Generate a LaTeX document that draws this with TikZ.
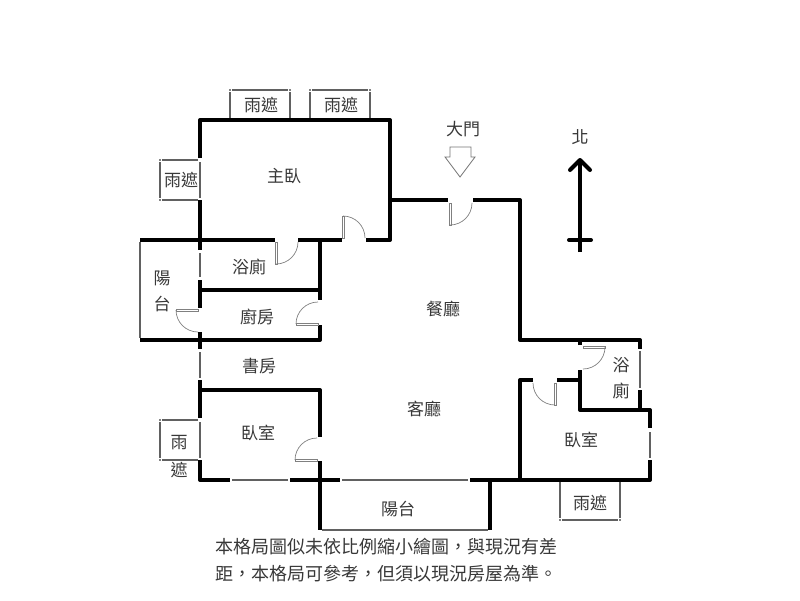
\documentclass[tikz,border=0pt]{standalone}
\usepackage{fontspec}
\setmainfont{Noto Sans CJK TC}
\newcommand{\wall}[1]{
	\draw[wallLine] #1;
}
\newcommand{\pane}[4]{
	\draw[paneLine] (#1, #2) -- (#3, #4);
}
\newcommand{\door}[4]{
	\draw[swingLine, shift={(#1, #2)}, rotate=#3] (0pt, -1.1pt) rectangle (22pt, 1.1pt);
	\draw[swingLine] (#1, #2) ++(#3:22pt) arc[start angle=#3, delta angle=#4, radius=22pt];
}
\newcommand{\roomLabel}[4]{
	\node[roomText] (#1) at (#2, #3) {#4};
}
\newcommand{\cornerTick}[2]{
	\fill (#1, #2) circle (0.9pt);
}
% frames of the canopies, given their corners
\newcommand{\canopyUp}[3]{
	\pane{#1}{#2 + 28}{#1}{#2 + 2}
	\pane{#1 + 2}{#2}{#3 - 2}{#2}
	\pane{#3}{#2 + 2}{#3}{#2 + 28}
	\cornerTick{#1}{#2}
	\cornerTick{#3}{#2}
}
\newcommand{\canopyDown}[3]{
	\pane{#1}{#2 - 38}{#1}{#2 - 2}
	\pane{#1 + 2}{#2}{#3 - 2}{#2}
	\pane{#3}{#2 - 2}{#3}{#2 - 38}
	\cornerTick{#1}{#2}
	\cornerTick{#3}{#2}
}
\newcommand{\canopyLeft}[3]{
	\pane{#1 + 38}{#2}{#1 + 2}{#2}
	\pane{#1}{#2 + 2}{#1}{#3 - 2}
	\pane{#1 + 2}{#3}{#1 + 38}{#3}
	\pane{#1 + 40}{#2 + 2}{#1 + 40}{#3 - 2}
	\cornerTick{#1}{#2}
	\cornerTick{#1}{#3}
}
\tikzset{
	wallLine/.style={line width=4pt, line join=round},
	paneLine/.style={line width=1.8pt, draw=black!62},
	swingLine/.style={draw=black!50, line width=0.7pt},
	roomText/.style={font=\fontsize{17}{17}\selectfont, text=black!78, inner sep=0pt},
	noteText/.style={font=\fontsize{18}{18}\selectfont, text=black!78, inner sep=0pt, anchor=west}
}
\begin{document}
\begin{tikzpicture}[x=1pt, y=-1pt]
	\useasboundingbox (0, 0) rectangle (800, 600);

	% walls
	\wall{(200, 158) -- (200, 120) -- (390, 120) -- (390, 240) -- (366, 240)}
	\wall{(200, 200) -- (200, 250)}
	\wall{(200, 280) -- (200, 308)}
	\wall{(200, 332) -- (200, 349)}
	\wall{(200, 380) -- (200, 418)}
	\wall{(200, 460) -- (200, 480) -- (230, 480)}
	\wall{(140, 240) -- (275, 240)}
	\wall{(298, 240) -- (342, 240)}
	\wall{(320, 240) -- (320, 300)}
	\wall{(320, 325) -- (320, 340) -- (140, 340)}
	\wall{(200, 290) -- (320, 290)}
	\wall{(200, 390) -- (320, 390) -- (320, 437)}
	\wall{(320, 461) -- (320, 530)}
	\wall{(290, 480) -- (340, 480)}
	\wall{(470, 480) -- (650, 480) -- (650, 460)}
	\wall{(490, 480) -- (490, 530)}
	\wall{(390, 200) -- (448, 200)}
	\wall{(473, 200) -- (520, 200) -- (520, 340) -- (640, 340) -- (640, 349)}
	\wall{(640, 390) -- (640, 410)}
	\wall{(580, 345) -- (580, 340)}
	\wall{(580, 370) -- (580, 410) -- (650, 410) -- (650, 428)}
	\wall{(533, 380) -- (520, 380) -- (520, 480)}
	\wall{(557, 380) -- (580, 380)}

	% glazing
	\pane{140}{242}{140}{338}
	\pane{200}{253}{200}{277}
	\pane{200}{352}{200}{378}
	\pane{232}{480}{288}{480}
	\pane{342}{480}{468}{480}
	\pane{322}{530}{488}{530}
	\pane{640}{351}{640}{388}
	\pane{650}{432}{650}{458}

	% canopies
	\canopyUp{230}{90}{290}
	\canopyUp{310}{90}{370}
	\canopyDown{560}{520}{620}
	\canopyLeft{160}{160}{200}
	\canopyLeft{160}{420}{460}

	% doors
	\door{276}{242}{270}{90}
	\door{343}{238}{90}{-90}
	\door{450}{203}{270}{90}
	\door{198}{310}{180}{90}
	\door{318}{324}{180}{-90}
	\door{317}{460}{180}{-90}
	\door{583}{347}{0}{-90}
	\door{555}{383}{270}{-90}

	% entrance and north marks
	\draw[draw=black!55, line width=0.8pt] (450, 147) -- (471, 147) -- (471, 157) -- (475, 157) -- (460, 177) -- (445, 157) -- (450, 157) -- cycle;
	\coordinate (northFoot) at (580, 252);
	\coordinate (northTip) at (580, 160);
	\draw[line width=4pt] (northFoot) -- (northTip);
	\draw[line width=4pt, line cap=round, line join=round] (570, 170) -- (580, 160) -- (590, 170);
	\draw[line width=4pt, line cap=round] (569, 240) -- (591, 240);

	% texts
	\roomLabel{canopyA}{261}{105}{雨遮}
	\roomLabel{canopyB}{341}{105}{雨遮}
	\roomLabel{canopyC}{181}{180}{雨遮}
	\roomLabel{master}{284}{176}{主臥}
	\roomLabel{entrance}{463}{129}{大門}
	\roomLabel{north}{580}{137}{北}
	\roomLabel{bathA}{249}{267}{浴廁}
	\roomLabel{balconyTop}{162}{278}{陽}
	\roomLabel{balconyEnd}{162}{304}{台}
	\roomLabel{kitchen}{257}{317}{廚房}
	\roomLabel{dining}{443}{309}{餐廳}
	\roomLabel{study}{259}{366}{書房}
	\roomLabel{living}{424}{409}{客廳}
	\roomLabel{bedA}{258}{433}{臥室}
	\roomLabel{canopyTop}{179}{443}{雨}
	\roomLabel{canopyEnd}{179}{470}{遮}
	\roomLabel{balconyB}{398}{509}{陽台}
	\roomLabel{bathTop}{621}{365}{浴}
	\roomLabel{bathEnd}{621}{391}{廁}
	\roomLabel{bedB}{581}{440}{臥室}
	\roomLabel{canopyD}{590}{503}{雨遮}
	\node[noteText] (noteA) at (215, 547) {本格局圖似未依比例縮小繪圖，與現況有差};
	\node[noteText] (noteB) at (215, 574) {距，本格局可參考，但須以現況房屋為準。};
\end{tikzpicture}
\end{document}
